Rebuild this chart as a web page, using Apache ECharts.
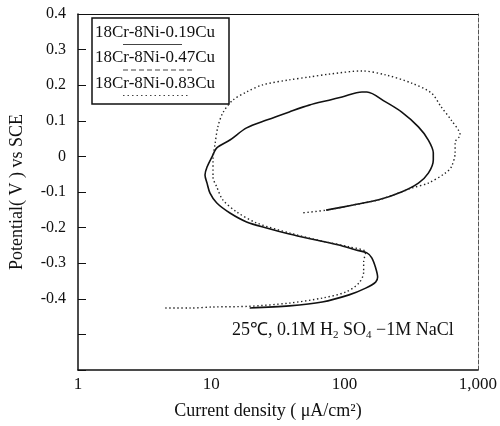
<!DOCTYPE html>
<html>
<head>
<meta charset="utf-8">
<script src="https://cdn.jsdelivr.net/npm/echarts@6/dist/echarts.min.js"></script>
<style>
  html, body { margin: 0; padding: 0; background: #fff; }
  #chart { width: 500px; height: 426px; }
</style>
</head>
<body>
<div id="chart"></div>
<script>
// legend entries, only two curves are visible in the plot
const alloys = ['18Cr-8Ni-0.19Cu', '18Cr-8Ni-0.47Cu', '18Cr-8Ni-0.83Cu']
const xTicks = [1, 10, 100, 1000]

// [current density uA/cm2, potential V], in scan order
const cu019 = [
  [19.4, -0.426], [38.5, -0.420], [67.9, -0.409], [108, -0.389], [144, -0.370],
  [171, -0.353], [177, -0.339], [171, -0.313], [160, -0.285], [147, -0.271],
  [122, -0.263], [90.8, -0.249], [61.2, -0.235], [38.5, -0.218], [26.0, -0.201],
  [18.4, -0.184], [13.8, -0.159], [11.0, -0.131], [9.78, -0.103], [9.29, -0.075],
  [8.97, -0.052], [9.29, -0.030], [10.1, -0.002], [11.0, 0.024], [13.8, 0.046],
  [18.4, 0.080], [26.0, 0.102], [38.5, 0.125], [54.3, 0.144], [76.5, 0.158],
  [95.7, 0.167], [135, 0.181], [147, 0.181], [203, 0.153], [267, 0.125],
  [358, 0.083], [425, 0.046], [463, 0.010], [463, -0.010], [425, -0.047],
  [358, -0.075], [267, -0.100], [180, -0.122], [114, -0.137], [72.7, -0.151]
]
const cu083 = [
  [4.52, -0.426], [6.94, -0.426], [10.3, -0.423], [19.4, -0.421], [38.5, -0.412],
  [67.9, -0.398], [102, -0.381], [128, -0.356], [139, -0.325], [139, -0.297],
  [144, -0.269], [108, -0.254], [67.9, -0.238], [38.5, -0.215], [21.9, -0.187],
  [15.5, -0.156], [12.2, -0.122], [11.0, -0.086], [10.3, -0.058], [10.3, -0.010],
  [10.7, 0.038], [11.2, 0.083], [12.2, 0.122], [14.5, 0.158], [18.4, 0.181],
  [24.3, 0.201], [38.5, 0.215], [54.3, 0.223], [76.5, 0.231], [135, 0.240],
  [203, 0.229], [318, 0.206], [448, 0.178], [531, 0.139], [631, 0.102],
  [736, 0.060], [675, 0.040], [675, 0.010], [631, -0.030], [569, -0.047],
  [425, -0.075], [318, -0.089], [267, -0.100], [180, -0.122], [114, -0.137],
  [72.7, -0.151], [47.3, -0.159]
]

const font = 'Liberation Serif'
const chart = echarts.init(document.getElementById('chart'))

const legendItems = []
const dashes = [null, [5, 3], [1.5, 3]]
const sampleEnd = [182, 192, 190]
alloys.forEach((name, i) => {
  legendItems.push({
    type: 'text', left: 95, top: 24 + i * 25.5,
    style: { text: name, font: '17px "Liberation Serif"', fill: '#111' }
  })
  legendItems.push({
    type: 'line',
    shape: { x1: 123, y1: 44.5 + i * 25.5, x2: sampleEnd[i], y2: 44.5 + i * 25.5 },
    style: { stroke: '#444', lineWidth: 1, lineDash: dashes[i] }
  })
})

chart.setOption({
  animation: false,
  grid: { left: 78, right: 19, top: 14, bottom: 56 },
  xAxis: [{
    type: 'log', logBase: 10, min: 1, max: 1000,
    name: 'Current density ( μA/cm²)', nameLocation: 'middle', nameGap: 32,
    nameTextStyle: { fontFamily: font, fontSize: 18, color: '#111', padding: [0, 20, 0, 0] },
    axisLine: { onZero: false, lineStyle: { color: '#111', width: 1.5 } },
    axisTick: { show: false },
    splitLine: { show: false },
    minorTick: { show: false },
    axisLabel: {
      fontFamily: font, fontSize: 17, color: '#111', margin: 6,
      formatter: v => v === 1000 ? '1,000' : String(v)
    }
  }, {
    type: 'log', logBase: 10, min: 1, max: 1000, position: 'top',
    axisLine: { onZero: false, lineStyle: { color: '#111', width: 1.2 } },
    axisTick: { show: false }, axisLabel: { show: false }, splitLine: { show: false }
  }],
  yAxis: [{
    type: 'value', min: -0.6, max: 0.4, interval: 0.1,
    name: 'Potential( V ) vs SCE', nameLocation: 'middle', nameGap: 52,
    nameTextStyle: { fontFamily: font, fontSize: 18, color: '#111' },
    axisLine: { show: true, onZero: false, lineStyle: { color: '#111', width: 1.5 } },
    axisTick: { show: true, inside: true, length: 8, lineStyle: { color: '#111' } },
    splitLine: { show: false },
    axisLabel: {
      fontFamily: font, fontSize: 16, color: '#111', margin: 12,
      formatter: v => v < -0.45 ? '' : (Math.abs(v) < 1e-9 ? '0' : v.toFixed(1))
    }
  }, {
    type: 'value', min: -0.6, max: 0.4, position: 'right',
    axisLine: { show: true, onZero: false, lineStyle: { color: '#555', width: 1, type: [4, 2] } },
    axisTick: { show: false }, axisLabel: { show: false }, splitLine: { show: false }
  }],
  graphic: [
    {
      type: 'rect', shape: { x: 92, y: 18, width: 137, height: 86 },
      style: { fill: '#fff', stroke: '#111', lineWidth: 1.5 }
    },
    ...legendItems,
    {
      type: 'text', left: 232, top: 321,
      style: {
        text: '25℃, 0.1M H{s|2} SO{s|4} −1M NaCl',
        font: '18px "Liberation Serif"', fill: '#111',
        rich: { s: { fontSize: 11, fontFamily: font, padding: [10, 0, 0, 0] } }
      }
    }
  ],
  series: [{
    name: alloys[0], type: 'line', data: cu019, smooth: 0.3, showSymbol: false,
    lineStyle: { color: '#111', width: 1.6 }
  }, {
    name: alloys[2], type: 'line', data: cu083, smooth: 0.3, showSymbol: false,
    lineStyle: { color: '#222', width: 1.4, type: [1.4, 2.6] }
  }]
})
</script>
</body>
</html>
